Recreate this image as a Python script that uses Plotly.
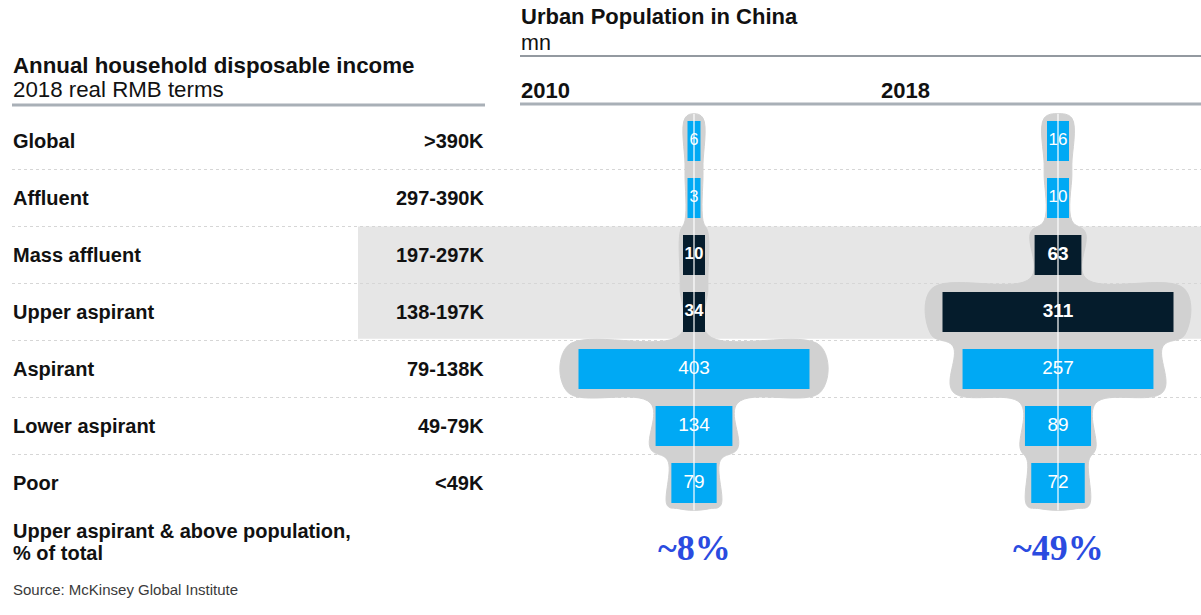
import plotly.graph_objects as go

# ---------------- data ----------------
tiers = ["Global", "Affluent", "Mass affluent", "Upper aspirant", "Aspirant", "Lower aspirant", "Poor"]
income_ranges = [">390K", "297-390K", "197-297K", "138-197K", "79-138K", "49-79K", "<49K"]
years = ["2010", "2018"]
pop_2010 = [6, 3, 10, 34, 403, 134, 79]
pop_2018 = [16, 10, 63, 311, 257, 89, 72]
share_labels = ["~8%", "~49%"]
highlight_tiers = ["Mass affluent", "Upper aspirant"]

# ---------------- styling / layout constants ----------------
W, H = 1201, 615
ROW0, ROWH = 141, 57          # px centre of first row, row pitch
BAR_MAX_PX = 231              # widest bar of each panel in px
BAR_H = 0.70                  # bar thickness in row units
BLUE, NAVY = "#00a9f4", "#051c2c"
SIL = "#d1d1d1"
BAND = "#e6e6e6"
FONT = "Liberation Sans, Arial, sans-serif"
panels = [dict(center=694, half=174), dict(center=1058, half=143)]
series = [pop_2010, pop_2018]


def px(x):
    return x / W


def py(y):
    return 1 - y / H


fig = go.Figure()
n = len(tiers)
rows = list(range(n))

for k, (vals, pan) in enumerate(zip(series, panels)):
    xa = "x" if k == 0 else "x2"
    scale = BAR_MAX_PX / max(vals)  # px per mn
    # bar widths (minimum so the label fits)
    w_px = [max(v * scale, 4 + 9 * len(str(v))) for v in vals]
    w = [p / scale for p in w_px]

    # silhouette envelope around the bars
    hw = [(p / 2 + 2 + 0.04 * p) / scale for p in w_px]
    top = -0.48
    bot = n - 1 + 0.48
    rx, ry = [0], [top]
    for i in rows:
        rx += [hw[i], hw[i]]
        ry += [i - 0.40, i + 0.40]
    rx += [hw[-1] * 0.6, 0]
    ry += [bot - 0.03, bot]
    lx = [-v for v in rx[::-1]]
    ly = ry[::-1]
    fig.add_trace(go.Scatter(
        x=rx + lx[1:], y=ry + ly[1:], xaxis=xa, yaxis="y",
        mode="lines", fill="toself", fillcolor=SIL,
        line=dict(color=SIL, width=1, shape="spline", smoothing=1.1),
        hoverinfo="skip", showlegend=False))

    # bars drawn as filled rectangles (so they sit above the silhouette)
    for highlighted, color in [(False, BLUE), (True, NAVY)]:
        bx, by = [], []
        for i, (t, ww) in enumerate(zip(tiers, w)):
            if (t in highlight_tiers) != highlighted:
                continue
            y0, y1 = i - BAR_H / 2, i + BAR_H / 2
            bx += [-ww / 2, ww / 2, ww / 2, -ww / 2, -ww / 2, None]
            by += [y0, y0, y1, y1, y0, None]
        fig.add_trace(go.Scatter(
            x=bx, y=by, xaxis=xa, yaxis="y", mode="lines", fill="toself",
            fillcolor=color, line=dict(width=0, color=color),
            hoverinfo="skip", showlegend=False))

    fig.add_trace(go.Scatter(
        x=[0, 0], y=[top, bot], xaxis=xa, yaxis="y", mode="lines",
        line=dict(color="white", width=1.2), hoverinfo="skip", showlegend=False))

    labels = [f"<b>{v}</b>" if t in highlight_tiers else str(v) for v, t in zip(vals, tiers)]
    sizes = [19 if v * scale > 30 else (17 if len(str(v)) > 1 else 16) for v in vals]
    fig.add_trace(go.Scatter(
        x=[0] * n, y=rows, xaxis=xa, yaxis="y", mode="text", text=labels,
        textposition="middle center",
        textfont=dict(color="white", size=sizes, family=FONT),
        hoverinfo="skip", showlegend=False))

# ---------------- shapes ----------------
shapes = []
shapes.append(dict(type="rect", xref="paper", yref="y", x0=px(358), x1=1,
                   y0=1.5, y1=3.47, fillcolor=BAND, line=dict(width=0), layer="below"))
for i in range(n - 1):
    shapes.append(dict(type="line", xref="paper", yref="y", x0=px(12), x1=1,
                       y0=i + 0.5, y1=i + 0.5,
                       line=dict(color="#d6d6d6", width=1, dash="dot"), layer="below"))
shapes.append(dict(type="line", xref="paper", yref="paper", x0=px(12), x1=px(485),
                   y0=py(105), y1=py(105), line=dict(color="#a9b0b7", width=3)))
shapes.append(dict(type="line", xref="paper", yref="paper", x0=px(520), x1=1,
                   y0=py(104), y1=py(104), line=dict(color="#a9b0b7", width=3)))
shapes.append(dict(type="line", xref="paper", yref="paper", x0=px(520), x1=1,
                   y0=py(56), y1=py(56), line=dict(color="#6f7780", width=1.5)))

# ---------------- annotations ----------------
ann = []


def text(x, y, s, size, bold=False, color="#111111", anchor="left", family=FONT):
    ann.append(dict(xref="paper", yref="paper", x=px(x), y=py(y), text=f"<b>{s}</b>" if bold else s,
                    showarrow=False, xanchor=anchor, yanchor="middle",
                    font=dict(size=size, color=color, family=family)))


text(519, 17, "Urban Population in China", 22, bold=True)
text(519, 43, "mn", 21.5)
text(11, 65, "Annual household disposable income", 22.3, bold=True)
text(11, 89, "2018 real RMB terms", 22.3)
text(519, 90, years[0], 22, bold=True)
text(905, 90, years[1], 22, bold=True, anchor="center")

for i, (t, r) in enumerate(zip(tiers, income_ranges)):
    yy = ROW0 + ROWH * i
    text(11, yy, t, 20, bold=True)
    text(486, yy, r, 20, bold=True, anchor="right")

text(11, 531, "Upper aspirant &amp; above population,", 20, bold=True)
text(11, 553, "% of total", 20, bold=True)
text(11, 589, "Source: McKinsey Global Institute", 15, color="#3a3a3a")

for k, s in enumerate(share_labels):
    ann.append(dict(xref="x" if k == 0 else "x2", yref="paper", x=0, y=py(548),
                    text=f"<b>{s}</b>", showarrow=False, xanchor="center", yanchor="middle",
                    font=dict(size=36, color="#2a4be0", family="Liberation Serif, Times New Roman, serif",
                              weight="bold")))

# ---------------- axes ----------------
axes = {}
for k, (vals, pan) in enumerate(zip(series, panels)):
    scale = BAR_MAX_PX / max(vals)
    half_units = pan["half"] / scale
    key = "xaxis" if k == 0 else "xaxis2"
    axes[key] = dict(domain=[px(pan["center"] - pan["half"]), px(pan["center"] + pan["half"])],
                     range=[-half_units, half_units], visible=False, fixedrange=True)
    if k == 1:
        axes[key]["anchor"] = "y"

y_top = -ROW0 / ROWH
y_bot = (H - ROW0) / ROWH
fig.update_layout(
    width=W, height=H, margin=dict(l=0, r=0, t=0, b=0),
    paper_bgcolor="white", plot_bgcolor="rgba(0,0,0,0)",
    yaxis=dict(domain=[0, 1], range=[y_bot, y_top], visible=False, fixedrange=True),
    shapes=shapes, annotations=ann, showlegend=False,
    font=dict(family=FONT),
    **axes,
)

fig.write_html("out.html", config={"displayModeBar": False})
